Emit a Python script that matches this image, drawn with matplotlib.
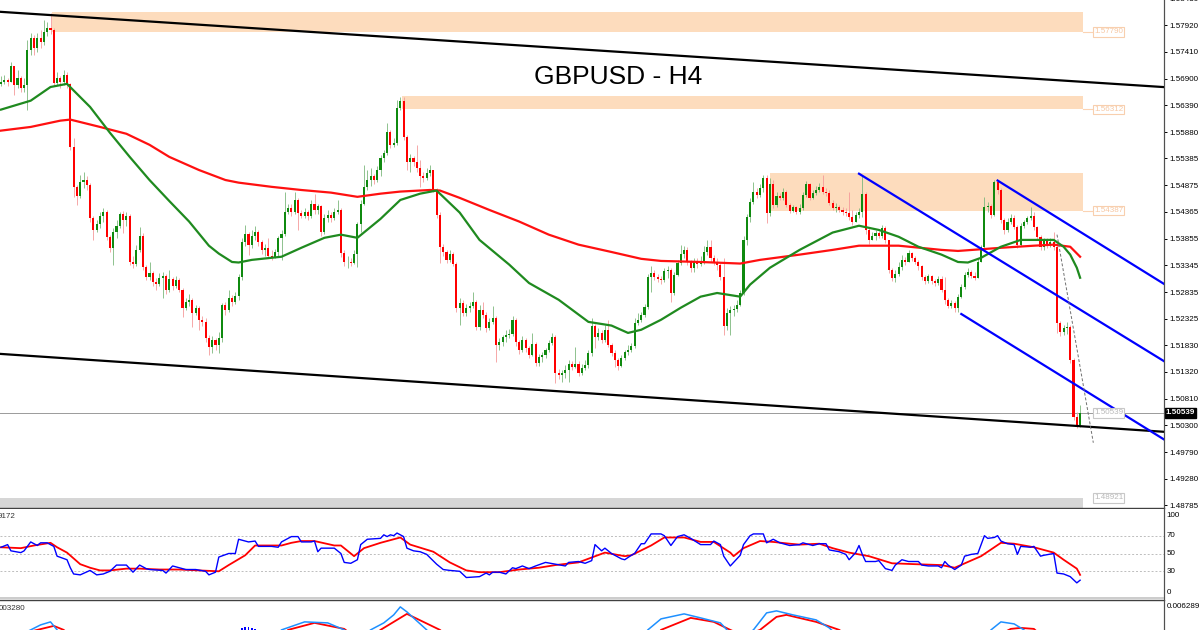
import matplotlib.pyplot as plt
from matplotlib.patches import Rectangle
from matplotlib.lines import Line2D
import numpy as np

plt.rcParams['font.family'] = ['Liberation Sans', 'DejaVu Sans']

# ---- GBPUSD H4 candles (open = previous close) ----
first_open = 1.5680
closes = [
    1.5684, 1.5688, 1.5684, 1.5714, 1.5678, 1.5692, 1.5673, 1.5678, 1.5745, 1.5768,
    1.5749, 1.5768, 1.5760, 1.5779, 1.5787, 1.5783, 1.5682, 1.5692, 1.5684, 1.5697,
    1.5680, 1.5560, 1.5484, 1.5467, 1.5494, 1.5497, 1.5488, 1.5425, 1.5402, 1.5414,
    1.5429, 1.5437, 1.5389, 1.5368, 1.5398, 1.5410, 1.5433, 1.5421, 1.5429, 1.5341,
    1.5338, 1.5364, 1.5391, 1.5332, 1.5313, 1.5320, 1.5303, 1.5300, 1.5311, 1.5315,
    1.5288, 1.5309, 1.5296, 1.5307, 1.5288, 1.5254, 1.5265, 1.5269, 1.5244, 1.5254,
    1.5231, 1.5227, 1.5197, 1.5180, 1.5193, 1.5183, 1.5197, 1.5260, 1.5250, 1.5273,
    1.5265, 1.5277, 1.5313, 1.5379, 1.5395, 1.5374, 1.5391, 1.5398, 1.5379, 1.5364,
    1.5368, 1.5353, 1.5351, 1.5360, 1.5387, 1.5395, 1.5437, 1.5444, 1.5437, 1.5459,
    1.5435, 1.5429, 1.5437, 1.5429, 1.5452, 1.5440, 1.5448, 1.5398, 1.5425, 1.5431,
    1.5425, 1.5437, 1.5440, 1.5359, 1.5341, 1.5341, 1.5339, 1.5357, 1.5414, 1.5452,
    1.5484, 1.5497, 1.5505, 1.5497, 1.5516, 1.5539, 1.5549, 1.5589, 1.5564, 1.5568,
    1.5634, 1.5648, 1.5579, 1.5532, 1.5539, 1.5532, 1.5520, 1.5505, 1.5501, 1.5511,
    1.5516, 1.5478, 1.5431, 1.5370, 1.5360, 1.5345, 1.5357, 1.5338, 1.5254, 1.5263,
    1.5244, 1.5254, 1.5258, 1.5265, 1.5218, 1.5250, 1.5241, 1.5216, 1.5227, 1.5235,
    1.5183, 1.5189, 1.5199, 1.5202, 1.5204, 1.5231, 1.5189, 1.5174, 1.5193, 1.5178,
    1.5164, 1.5185, 1.5149, 1.5161, 1.5164, 1.5174, 1.5187, 1.5199, 1.5130, 1.5126,
    1.5130, 1.5136, 1.5147, 1.5142, 1.5147, 1.5130, 1.5140, 1.5145, 1.5168, 1.5220,
    1.5199, 1.5206, 1.5193, 1.5212, 1.5183, 1.5168, 1.5155, 1.5143, 1.5159, 1.5170,
    1.5174, 1.5182, 1.5225, 1.5231, 1.5241, 1.5256, 1.5313, 1.5320, 1.5313, 1.5309,
    1.5307, 1.5324, 1.5326, 1.5282, 1.5317, 1.5340, 1.5357, 1.5364, 1.5341, 1.5330,
    1.5341, 1.5338, 1.5339, 1.5360, 1.5370, 1.5349, 1.5341, 1.5336, 1.5313, 1.5220,
    1.5244, 1.5250, 1.5252, 1.5260, 1.5282, 1.5383, 1.5427, 1.5456, 1.5475, 1.5469,
    1.5482, 1.5501, 1.5435, 1.5490, 1.5450, 1.5467, 1.5463, 1.5475, 1.5450, 1.5438,
    1.5446, 1.5437, 1.5444, 1.5469, 1.5490, 1.5463, 1.5473, 1.5478, 1.5484, 1.5475,
    1.5473, 1.5454, 1.5444, 1.5446, 1.5440, 1.5437, 1.5435, 1.5427, 1.5418, 1.5431,
    1.5437, 1.5471, 1.5402, 1.5383, 1.5391, 1.5397, 1.5391, 1.5406, 1.5383, 1.5326,
    1.5311, 1.5319, 1.5332, 1.5345, 1.5341, 1.5359, 1.5349, 1.5341, 1.5334, 1.5313,
    1.5305, 1.5315, 1.5305, 1.5301, 1.5309, 1.5288, 1.5269, 1.5258, 1.5263, 1.5254,
    1.5275, 1.5294, 1.5317, 1.5322, 1.5315, 1.5311, 1.5341, 1.5370, 1.5446, 1.5448,
    1.5431, 1.5494, 1.5478, 1.5421, 1.5402, 1.5418, 1.5425, 1.5408, 1.5374, 1.5410,
    1.5418, 1.5425, 1.5429, 1.5408, 1.5389, 1.5370, 1.5383, 1.5374, 1.5379, 1.5370,
    1.5225, 1.5208, 1.5216, 1.5218, 1.5155, 1.5046, 1.5031, 1.5054,
]
highs = [
    1.5695, 1.5697, 1.5692, 1.5722, 1.5714, 1.5707, 1.5695, 1.5692, 1.5764, 1.5777,
    1.5773, 1.5777, 1.5783, 1.5802, 1.5798, 1.5815, 1.5787, 1.5703, 1.5695, 1.5707,
    1.5703, 1.5682, 1.5577, 1.5488, 1.5507, 1.5513, 1.5505, 1.5492, 1.5429, 1.5421,
    1.5437, 1.5444, 1.5440, 1.5393, 1.5406, 1.5421, 1.5437, 1.5438, 1.5437, 1.5433,
    1.5353, 1.5374, 1.5408, 1.5397, 1.5336, 1.5341, 1.5324, 1.5311, 1.5320, 1.5322,
    1.5319, 1.5326, 1.5313, 1.5315, 1.5311, 1.5292, 1.5273, 1.5280, 1.5273, 1.5260,
    1.5258, 1.5239, 1.5235, 1.5202, 1.5201, 1.5197, 1.5208, 1.5263, 1.5265, 1.5288,
    1.5279, 1.5284, 1.5319, 1.5387, 1.5412, 1.5398, 1.5402, 1.5410, 1.5402, 1.5383,
    1.5376, 1.5387, 1.5364, 1.5366, 1.5391, 1.5402, 1.5475, 1.5452, 1.5452, 1.5475,
    1.5463, 1.5440, 1.5444, 1.5440, 1.5459, 1.5471, 1.5452, 1.5450, 1.5433, 1.5440,
    1.5437, 1.5444, 1.5459, 1.5444, 1.5364, 1.5353, 1.5349, 1.5364, 1.5418, 1.5459,
    1.5526, 1.5516, 1.5520, 1.5509, 1.5524, 1.5545, 1.5555, 1.5606, 1.5593, 1.5577,
    1.5650, 1.5655, 1.5655, 1.5583, 1.5547, 1.5543, 1.5564, 1.5535, 1.5513, 1.5520,
    1.5526, 1.5516, 1.5482, 1.5437, 1.5376, 1.5364, 1.5364, 1.5360, 1.5341, 1.5273,
    1.5269, 1.5261, 1.5265, 1.5284, 1.5269, 1.5260, 1.5265, 1.5246, 1.5235, 1.5258,
    1.5239, 1.5197, 1.5202, 1.5212, 1.5214, 1.5239, 1.5235, 1.5193, 1.5201, 1.5197,
    1.5182, 1.5206, 1.5189, 1.5166, 1.5170, 1.5178, 1.5193, 1.5206, 1.5202, 1.5138,
    1.5136, 1.5145, 1.5155, 1.5153, 1.5180, 1.5153, 1.5147, 1.5155, 1.5174, 1.5235,
    1.5223, 1.5216, 1.5212, 1.5221, 1.5231, 1.5187, 1.5174, 1.5159, 1.5164, 1.5174,
    1.5183, 1.5187, 1.5235, 1.5244, 1.5246, 1.5261, 1.5319, 1.5334, 1.5326, 1.5319,
    1.5315, 1.5330, 1.5334, 1.5330, 1.5322, 1.5345, 1.5374, 1.5372, 1.5370, 1.5345,
    1.5349, 1.5349, 1.5353, 1.5372, 1.5383, 1.5383, 1.5355, 1.5349, 1.5341, 1.5349,
    1.5254, 1.5258, 1.5260, 1.5269, 1.5288, 1.5391, 1.5433, 1.5463, 1.5494, 1.5482,
    1.5490, 1.5507, 1.5507, 1.5501, 1.5497, 1.5475, 1.5473, 1.5482, 1.5478, 1.5454,
    1.5450, 1.5448, 1.5452, 1.5475, 1.5496, 1.5492, 1.5478, 1.5486, 1.5492, 1.5507,
    1.5482, 1.5478, 1.5459, 1.5454, 1.5450, 1.5446, 1.5444, 1.5475, 1.5440, 1.5437,
    1.5444, 1.5507, 1.5475, 1.5406, 1.5398, 1.5402, 1.5400, 1.5412, 1.5410, 1.5383,
    1.5330, 1.5326, 1.5341, 1.5355, 1.5351, 1.5364, 1.5360, 1.5353, 1.5345, 1.5336,
    1.5317, 1.5319, 1.5317, 1.5309, 1.5315, 1.5315, 1.5313, 1.5273, 1.5269, 1.5267,
    1.5280, 1.5300, 1.5322, 1.5330, 1.5326, 1.5322, 1.5349, 1.5374, 1.5465, 1.5456,
    1.5452, 1.5497, 1.5496, 1.5482, 1.5425, 1.5425, 1.5433, 1.5431, 1.5412, 1.5416,
    1.5421, 1.5429, 1.5446, 1.5437, 1.5410, 1.5393, 1.5387, 1.5387, 1.5387, 1.5398,
    1.5374, 1.5229, 1.5221, 1.5227, 1.5221, 1.5159, 1.5056, 1.5069,
]
lows = [
    1.5676, 1.5680, 1.5676, 1.5688, 1.5659, 1.5673, 1.5665, 1.5665, 1.5631, 1.5735,
    1.5735, 1.5741, 1.5749, 1.5754, 1.5771, 1.5775, 1.5676, 1.5678, 1.5673, 1.5678,
    1.5673, 1.5555, 1.5465, 1.5450, 1.5463, 1.5482, 1.5478, 1.5418, 1.5383, 1.5398,
    1.5406, 1.5418, 1.5383, 1.5360, 1.5336, 1.5387, 1.5406, 1.5397, 1.5410, 1.5336,
    1.5330, 1.5334, 1.5360, 1.5326, 1.5307, 1.5307, 1.5296, 1.5288, 1.5296, 1.5273,
    1.5280, 1.5284, 1.5288, 1.5292, 1.5284, 1.5237, 1.5250, 1.5258, 1.5218, 1.5241,
    1.5212, 1.5220, 1.5189, 1.5164, 1.5168, 1.5174, 1.5168, 1.5189, 1.5241, 1.5246,
    1.5258, 1.5261, 1.5269, 1.5307, 1.5372, 1.5355, 1.5368, 1.5383, 1.5372, 1.5357,
    1.5353, 1.5349, 1.5345, 1.5349, 1.5353, 1.5345, 1.5391, 1.5433, 1.5429, 1.5433,
    1.5402, 1.5425, 1.5425, 1.5421, 1.5425, 1.5433, 1.5433, 1.5391, 1.5395, 1.5418,
    1.5418, 1.5421, 1.5433, 1.5351, 1.5334, 1.5330, 1.5334, 1.5338, 1.5332, 1.5398,
    1.5450, 1.5478, 1.5486, 1.5490, 1.5494, 1.5505, 1.5532, 1.5545, 1.5558, 1.5560,
    1.5564, 1.5631, 1.5574, 1.5516, 1.5513, 1.5524, 1.5513, 1.5484, 1.5494, 1.5497,
    1.5505, 1.5475, 1.5425, 1.5339, 1.5353, 1.5339, 1.5341, 1.5334, 1.5246, 1.5221,
    1.5239, 1.5239, 1.5246, 1.5254, 1.5212, 1.5212, 1.5235, 1.5208, 1.5212, 1.5223,
    1.5151, 1.5174, 1.5182, 1.5189, 1.5197, 1.5201, 1.5182, 1.5166, 1.5170, 1.5170,
    1.5159, 1.5163, 1.5143, 1.5143, 1.5151, 1.5159, 1.5170, 1.5183, 1.5111, 1.5119,
    1.5113, 1.5121, 1.5113, 1.5136, 1.5140, 1.5124, 1.5126, 1.5136, 1.5140, 1.5163,
    1.5178, 1.5193, 1.5187, 1.5189, 1.5180, 1.5163, 1.5142, 1.5136, 1.5142, 1.5155,
    1.5164, 1.5170, 1.5178, 1.5221, 1.5227, 1.5237, 1.5252, 1.5284, 1.5307, 1.5303,
    1.5300, 1.5303, 1.5311, 1.5265, 1.5279, 1.5315, 1.5336, 1.5349, 1.5336, 1.5322,
    1.5322, 1.5330, 1.5334, 1.5338, 1.5355, 1.5341, 1.5336, 1.5326, 1.5307, 1.5202,
    1.5212, 1.5202, 1.5239, 1.5246, 1.5258, 1.5279, 1.5374, 1.5418, 1.5452, 1.5463,
    1.5465, 1.5475, 1.5416, 1.5429, 1.5444, 1.5446, 1.5459, 1.5459, 1.5446, 1.5435,
    1.5437, 1.5433, 1.5433, 1.5440, 1.5465, 1.5459, 1.5461, 1.5469, 1.5475, 1.5471,
    1.5467, 1.5450, 1.5440, 1.5437, 1.5437, 1.5431, 1.5429, 1.5421, 1.5412, 1.5418,
    1.5425, 1.5427, 1.5395, 1.5376, 1.5383, 1.5383, 1.5387, 1.5387, 1.5378, 1.5320,
    1.5305, 1.5303, 1.5315, 1.5326, 1.5336, 1.5341, 1.5343, 1.5338, 1.5326, 1.5307,
    1.5300, 1.5301, 1.5300, 1.5296, 1.5298, 1.5284, 1.5261, 1.5254, 1.5254, 1.5246,
    1.5246, 1.5273, 1.5290, 1.5313, 1.5311, 1.5307, 1.5311, 1.5341, 1.5368, 1.5437,
    1.5425, 1.5429, 1.5471, 1.5416, 1.5395, 1.5398, 1.5414, 1.5404, 1.5368, 1.5372,
    1.5406, 1.5414, 1.5421, 1.5402, 1.5383, 1.5364, 1.5364, 1.5368, 1.5370, 1.5364,
    1.5206, 1.5201, 1.5202, 1.5204, 1.5149, 1.5041, 1.5025, 1.5027,
]

# ---- moving averages (bar index, price) ----
ma_fast_x = [0, 9, 15, 20, 27, 33, 39, 45, 51, 57, 60, 63, 66, 70, 72, 76, 85, 91, 98, 103,
             108, 115, 121, 127, 132, 139, 145, 154, 160, 169, 178, 185, 190, 194, 200, 206,
             212, 217, 224, 227, 233, 242, 252, 260, 266, 272, 278, 285, 290, 293, 297, 303,
             309, 315, 319, 322, 324, 326, 327]
ma_fast = [1.5631, 1.5648, 1.5674, 1.5680, 1.5636, 1.5587, 1.5541, 1.5497, 1.5457, 1.5418,
           1.5395, 1.5372, 1.5357, 1.5341, 1.5340, 1.5345, 1.5351, 1.5368, 1.5387, 1.5393,
           1.5387, 1.5423, 1.5459, 1.5471, 1.5477, 1.5435, 1.5383, 1.5336, 1.5301, 1.5269,
           1.5227, 1.5220, 1.5206, 1.5212, 1.5231, 1.5254, 1.5275, 1.5282, 1.5275, 1.5298,
           1.5330, 1.5364, 1.5397, 1.5410, 1.5402, 1.5389, 1.5370, 1.5355, 1.5341, 1.5340,
           1.5349, 1.5370, 1.5383, 1.5383, 1.5383, 1.5370, 1.5355, 1.5330, 1.5311]
ma_slow_x = [0, 9, 18, 21, 30, 38, 45, 51, 60, 68, 72, 82, 91, 100, 108, 115, 121, 130, 133,
             139, 148, 157, 166, 175, 185, 194, 200, 212, 224, 230, 242, 252, 260, 272, 285,
             290, 303, 313, 319, 324, 327]
ma_slow = [1.5591, 1.5598, 1.5610, 1.5612, 1.5598, 1.5585, 1.5564, 1.5541, 1.5516, 1.5497,
           1.5492, 1.5484, 1.5478, 1.5473, 1.5465, 1.5471, 1.5475, 1.5478, 1.5477, 1.5463,
           1.5440, 1.5418, 1.5393, 1.5374, 1.5360, 1.5347, 1.5343, 1.5341, 1.5338, 1.5345,
           1.5355, 1.5364, 1.5372, 1.5372, 1.5364, 1.5362, 1.5368, 1.5372, 1.5374, 1.5370,
           1.5351]

# ---- zones (start bar, top, bottom) ----
zone_start = [15.5, 121.5, 233]
zone_top = [1.5817, 1.5657, 1.5511]
zone_bottom = [1.57790, 1.56312, 1.54387]
zone_end = 327.9
support_top = 1.48921
last_price = 1.50539

# ---- drawn lines ((x1, p1), (x2, p2)) ----
channel_black = [((0, 1.5817), (352, 1.5674)), ((0, 1.5166), (352, 1.5018))]
channel_blue = [((260, 1.5509), (353, 1.5150)), ((302, 1.5496), (353, 1.5297)),
                ((291, 1.5242), (353, 1.5001))]
dash_line = ((320, 1.5393), (331, 1.4997))

price_ticks = [1.58430, 1.57920, 1.57410, 1.56900, 1.56390, 1.55880, 1.55385, 1.54875,
               1.54365, 1.53855, 1.53345, 1.52835, 1.52325, 1.51830, 1.51320, 1.50810,
               1.50300, 1.49790, 1.49280, 1.48785]

# ---- stochastic (bar index, value) ----
stoch_k_x = [0, 2, 3, 6, 7, 9, 11, 12, 14, 16, 17, 20, 21, 22, 24, 27, 29, 31, 33, 35,
             38, 40, 42, 44, 45, 49, 50, 52, 54, 56, 59, 62, 63, 65, 66, 69, 71, 72, 75, 77,
             78, 82, 84, 85, 88, 90, 91, 94, 95, 96, 97, 101, 103, 104, 106, 108, 109, 111,
             115, 116, 117, 118, 119, 120, 122, 123, 125, 127, 129, 132, 134, 136, 139, 141,
             145, 147, 148, 149, 151, 153, 155, 156, 158, 160, 162, 165, 168, 171, 172, 175,
             177, 179, 180, 182, 183, 185, 188, 189, 191, 192, 194, 195, 197, 200, 201, 203,
             205, 207, 209, 212, 215, 216, 218, 219, 221, 222, 224, 225, 227, 228, 231, 232,
             234, 236, 239, 242, 243, 244, 246, 248, 250, 251, 254, 256, 257, 259, 260, 261,
             262, 265, 266, 268, 270, 271, 273, 275, 278, 279, 281, 284, 285, 286, 287, 289,
             291, 292, 294, 296, 297, 298, 299, 301, 302, 303, 305, 307, 308, 309, 312, 313,
             315, 316, 319, 320, 322, 324, 326, 327]
stoch_k = [57, 60, 53, 51, 53, 63, 59, 62, 62, 58, 47, 43, 34, 27, 26, 31, 26, 27, 30, 37,
           37, 29, 37, 33, 32, 31, 28, 36, 34, 32, 32, 30, 26, 29, 46, 50, 50, 66, 63, 64,
           58, 58, 57, 63, 69, 69, 63, 63, 64, 52, 56, 56, 50, 40, 39, 43, 60, 66,
           67, 71, 69, 71, 70, 73, 69, 56, 53, 52, 49, 38, 32, 31, 30, 23,
           24, 28, 26, 29, 29, 27, 34, 33, 36, 33, 36, 40, 38, 36, 40, 41,
           39, 42, 60, 53, 56, 50, 44, 43, 48, 50, 61, 61, 72, 72, 70, 59,
           69, 71, 67, 60, 60, 64, 60, 47, 36, 40, 48, 60, 70, 72, 72, 62,
           66, 62, 59, 60, 62, 61, 59, 61, 61, 54, 52, 49, 43, 51, 59, 49,
           41, 41, 42, 33, 31, 37, 43, 41, 41, 37, 36, 36, 34, 41, 37, 32,
           37, 47, 49, 50, 60, 70, 67, 68, 70, 64, 61, 60, 49, 58, 57, 58,
           47, 48, 50, 28, 27, 24, 17, 20]
stoch_d_x = [0, 6, 10, 15, 17, 20, 24, 27, 30, 33, 38, 42, 48, 54, 60, 66, 69, 74, 77, 82,
             85, 88, 91, 95, 101, 103, 107, 110, 115, 121, 124, 131, 136, 141, 145, 151, 157,
             163, 168, 175, 183, 189, 191, 197, 201, 207, 212, 216, 221, 222, 225, 230, 234,
             239, 242, 248, 252, 257, 263, 270, 277, 285, 289, 297, 303, 307, 313, 319, 322,
             326, 327]
stoch_d = [57, 56, 59, 62, 57, 51, 38, 34, 31, 31, 33, 33, 32, 32, 31, 30, 37, 48, 59, 59,
           59, 62, 64, 64, 59, 59, 47, 56, 62, 68, 60, 52, 40, 31, 29, 29, 32,
           34, 37, 40, 51, 47, 48, 59, 68, 68, 63, 63, 51, 47, 56, 64, 63,
           61, 60, 61, 56, 51, 47, 39, 38, 37, 34, 47, 62, 61, 57, 51, 43,
           33, 26]

# ---- MACD (bar index, value) ----
macd_x = [0, 9, 12, 15, 17, 22, 50, 80, 85, 92, 99, 104, 108, 112, 116, 119, 121, 123, 129,
          135, 170, 190, 196, 200, 207, 212, 218, 220, 224, 228, 232, 235, 240, 247, 251, 256,
          280, 295, 300, 303, 307, 310, 315, 327]
macd_main = [0.0020, 0.0034, 0.0039, 0.0042, 0.0034, 0.0010, -0.0020, 0.0015, 0.0034, 0.0042,
             0.0041, 0.0034, 0.0022, 0.0034, 0.0041, 0.0049, 0.0057, 0.0052, 0.0034, 0.0010,
             -0.0025, 0.0005, 0.0034, 0.0045, 0.0050, 0.0046, 0.0041, 0.0034, 0.0025, 0.0034,
             0.0051, 0.0053, 0.0049, 0.0044, 0.0036, 0.0020, -0.0010, 0.0015, 0.0034, 0.0042,
             0.0040, 0.0034, 0.0015, -0.0030]
signal_x = [0, 11, 16, 19, 25, 55, 82, 87, 95, 104, 110, 115, 123, 128, 133, 140, 170, 195,
            200, 209, 216, 221, 225, 230, 235, 238, 247, 254, 260, 285, 300, 306, 309, 313,
            318, 327]
macd_signal = [0.0025, 0.0034, 0.0038, 0.0034, 0.0015, -0.0015, 0.0015, 0.0034, 0.0041, 0.0035,
               0.0020, 0.0034, 0.0050, 0.0042, 0.0034, 0.0015, -0.0020, 0.0010, 0.0034, 0.0046,
               0.0042, 0.0034, 0.0028, 0.0034, 0.0047, 0.0049, 0.0042, 0.0034, 0.0020, -0.0005,
               0.0025, 0.0035, 0.0036, 0.0035, 0.0020, 0.0000]
hist_x = [73, 74, 75, 76, 77]
hist_vals = [0.0036, 0.0037, 0.0037, 0.0036, 0.0035]

# ---------------------------------------------------------------
W, H = 1200, 630
fig = plt.figure(figsize=(12, 6.3), dpi=100)


def box(x0, y0, x1, y1):
    # pixel box (top-left origin) -> figure fraction
    return [x0 / W, 1 - y1 / H, (x1 - x0) / W, (y1 - y0) / H]


ax = fig.add_axes(box(0, -6, 1164, 508))
ax_st = fig.add_axes(box(0, 509, 1164, 598))
ax_md = fig.add_axes(box(0, 600, 1164, 700))
xlim = (-0.303, 352.42)
for a in (ax, ax_st, ax_md):
    a.set_xlim(*xlim)
    a.set_xticks([])
    a.set_facecolor('white')
    for s in ('left', 'top', 'bottom'):
        a.spines[s].set_visible(False)
    a.spines['right'].set_color('#505050')
    a.spines['right'].set_linewidth(0.8)

# main panel
ax.set_ylim(1.48728, 1.58510)
ax.spines['bottom'].set_visible(True)
ax.spines['bottom'].set_color('#404040')
ax.spines['bottom'].set_linewidth(1.0)

for xs, t, b in zip(zone_start, zone_top, zone_bottom):
    ax.add_patch(Rectangle((xs, b), zone_end - xs, t - b, facecolor='#fddcbd',
                           edgecolor='none', zorder=0))
ax.add_patch(Rectangle((-1, 1.4860), zone_end + 1, support_top - 1.4860,
                       facecolor='#d6d6d6', edgecolor='none', zorder=0))

ax.axhline(last_price, color='#9a9a9a', lw=0.7, zorder=1)

c = np.array(closes)
o = np.array([first_open] + closes[:-1])
hi = np.maximum(np.array(highs), np.maximum(o, c))
lo = np.minimum(np.array(lows), np.minimum(o, c))
x = np.arange(len(c))
up = c >= o
ax.vlines(x[up], lo[up], hi[up], colors='#7cb87c', lw=0.6, zorder=2)
ax.vlines(x[~up], lo[~up], hi[~up], colors='#f59a9a', lw=0.6, zorder=2)
body_h = np.maximum(np.abs(c - o), 0.00005)
body_b = np.minimum(o, c)
ax.bar(x[up], body_h[up], bottom=body_b[up], width=0.62, color='#0f8a0f', lw=0, zorder=3)
ax.bar(x[~up], body_h[~up], bottom=body_b[~up], width=0.62, color='#ff0000', lw=0, zorder=3)

ax.plot(ma_slow_x, ma_slow, color='#ff1010', lw=1.6, zorder=4)
ax.plot(ma_fast_x, ma_fast, color='#1f8a1f', lw=1.6, zorder=4)

for p1, p2 in channel_black:
    ax.axline(p1, p2, color='black', lw=1.6, zorder=5)
for p1, p2 in channel_blue:
    ax.plot([p1[0], p2[0]], [p1[1], p2[1]], color='#0000ff', lw=1.6, zorder=5)
ax.plot([dash_line[0][0], dash_line[1][0]], [dash_line[0][1], dash_line[1][1]],
        color='#707070', lw=0.7, ls=(0, (3, 2)), zorder=5)

ax.yaxis.tick_right()
ax.set_yticks(price_ticks)
ax.set_yticklabels([f'{t:.5f}' for t in price_ticks])
ax.tick_params(axis='y', direction='out', length=2.5, width=0.7, pad=1.5,
               labelsize=5.8, colors='black')

# zone / level labels
lab_x = 331.2
for b in zone_bottom:
    ax.plot([zone_end, lab_x], [b, b], color='#fbd3b3', lw=0.8, zorder=2)
    ax.text(lab_x, b, f'{b:.5f}', fontsize=5.8, color='#f6c7a2', va='center', ha='left',
            bbox=dict(boxstyle='square,pad=0.15', fc='white', ec='#f8cfae', lw=0.8), zorder=6)
for lv in (last_price, support_top):
    ax.text(lab_x, lv, f'{lv:.5f}', fontsize=5.8, color='#b8b8b8', va='center', ha='left',
            bbox=dict(boxstyle='square,pad=0.15', fc='white', ec='#c8c8c8', lw=0.8), zorder=6)
ax.text(353.0, last_price, f'{last_price:.5f}', fontsize=5.8, color='white', fontweight='bold',
        va='center', ha='left', clip_on=False,
        bbox=dict(boxstyle='square,pad=0.15', fc='black', ec='black'))

fig.text(618 / W, 1 - 77 / H, 'GBPUSD - H4', fontsize=19, ha='center', va='center',
         color='black')

# stochastic panel
ax_st.set_ylim(0, 100)
ax_st.set_yticks([])
ax_st.spines['bottom'].set_visible(True)
ax_st.spines['bottom'].set_color('#c4c4c4')
ax_st.spines['bottom'].set_linewidth(1.2)
for lv in (30, 50, 70):
    ax_st.axhline(lv, color='#bdbdbd', lw=0.7, ls=(0, (2, 2)))
ax_st.plot(stoch_d_x, stoch_d, color='#ff0000', lw=1.3)
ax_st.plot(stoch_k_x, stoch_k, color='#0000ff', lw=1.0)
for lbl, pos in (('100', 93), ('70', 70), ('50', 50), ('30', 30), ('0', 6)):
    ax_st.text(353.2, pos, lbl, fontsize=5.8, va='center', ha='left', clip_on=False)
fig.text(-2 / W, 1 - 517 / H, '9172', fontsize=5.8, va='center', ha='left', color='#333333')

# MACD panel
ax_md.set_ylim(-0.003611, 0.006389)
ax_md.set_yticks([])
ax_md.spines['top'].set_visible(True)
ax_md.spines['top'].set_color('#404040')
ax_md.spines['top'].set_linewidth(1.0)
ax_md.bar(hist_x, hist_vals, width=0.5, color='#0000ff')
ax_md.plot(signal_x, macd_signal, color='#ff0000', lw=1.3)
ax_md.plot(macd_x, macd_main, color='#1e90ff', lw=1.1)
fig.text(1167 / W, 1 - 607 / H, '0.006289', fontsize=5.8, va='center', ha='left')
fig.text(-1 / W, 1 - 609 / H, '003280', fontsize=5.8, va='center', ha='left', color='#333333')

fig.add_artist(Line2D([1164 / W, 1164 / W], [0, 1], color='#505050', lw=0.8))

fig.savefig('out.png', dpi=100)
